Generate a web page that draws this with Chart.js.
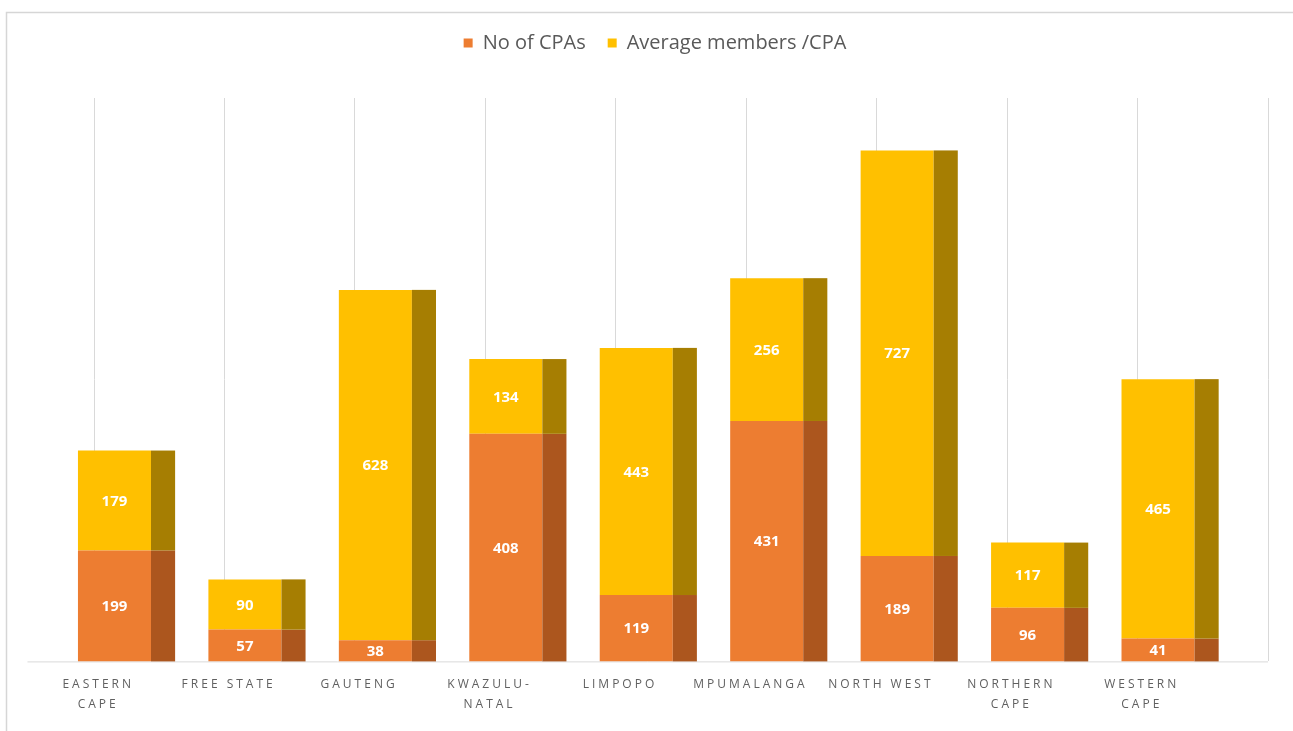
<!DOCTYPE html>
<html>
<head>
<meta charset="utf-8">
<title>CPAs by province</title>
<script src="https://cdn.jsdelivr.net/npm/chart.js@4.4.1/dist/chart.umd.min.js"></script>
<style>
  html, body { margin: 0; padding: 0; background: #fff; }
  #wrap { width: 1293px; height: 731px; }
</style>
</head>
<body>
<div id="wrap"><canvas id="cpaChart"></canvas></div>
<script>
// provinces, shown in capitals with a line break like the original axis
const provinces = [
  ['EASTERN', 'CAPE'], 'FREE STATE', 'GAUTENG', ['KWAZULU-', 'NATAL'],
  'LIMPOPO', 'MPUMALANGA', 'NORTH WEST', ['NORTHERN', 'CAPE'], ['WESTERN', 'CAPE']
];
const noOfCPAs = [199, 57, 38, 408, 119, 431, 189, 96, 41];
const avgMembersPerCPA = [179, 90, 628, 134, 443, 256, 727, 117, 465];

const frontColors = ['#ED7D31', '#FFC000'];
const sideColors = ['#AC561E', '#A67E02'];

// fake 3D look: bars pushed forward (left), with a darker side face on the right
const pseudo3d = {
  id: 'pseudo3d',
  beforeDraw(chart) {
    const ctx = chart.ctx;
    ctx.save();
    ctx.strokeStyle = '#d6d6d6';
    ctx.lineWidth = 1.5;
    ctx.beginPath();
    ctx.moveTo(6.5, chart.height);
    ctx.lineTo(6.5, 12.5);
    ctx.lineTo(chart.width, 12.5);
    ctx.stroke();
    ctx.restore();
  },
  beforeDatasetsDraw(chart) {
    const ctx = chart.ctx;
    const area = chart.chartArea;
    const x = chart.scales.x;
    const step = x.getPixelForValue(1) - x.getPixelForValue(0);
    // floor edge
    ctx.save();
    ctx.strokeStyle = '#d9d9d9';
    ctx.lineWidth = 1;
    ctx.beginPath();
    ctx.moveTo(area.left - step * 0.51, area.bottom + 0.5);
    ctx.lineTo(area.right, area.bottom + 0.5);
    ctx.stroke();
    ctx.restore();

    ctx.save();
    ctx.translate(-step * 0.343, 0);
  },
  afterDatasetsDraw(chart) {
    const ctx = chart.ctx;
    ctx.letterSpacing = '0px';
    chart.data.datasets.forEach((ds, di) => {
      const meta = chart.getDatasetMeta(di);
      meta.data.forEach((bar, i) => {
        const depth = bar.width * 0.33;
        const right = bar.x + bar.width / 2;
        ctx.fillStyle = sideColors[di];
        ctx.fillRect(right, bar.y, depth, bar.base - bar.y);
      });
    });
    chart.data.datasets.forEach((ds, di) => {
      const meta = chart.getDatasetMeta(di);
      meta.data.forEach((bar, i) => {
        ctx.fillStyle = '#ffffff';
        ctx.font = 'bold 15px "Open Sans", sans-serif';
        ctx.textAlign = 'center';
        ctx.textBaseline = 'middle';
        ctx.fillText(String(ds.data[i]), bar.x, (bar.y + bar.base) / 2 + 1);
      });
    });
    ctx.restore();
    // spaced capitals for the category labels drawn next
    ctx.letterSpacing = '3px';
  },
  afterDraw(chart) {
    chart.ctx.letterSpacing = '0px';
  }
};

new Chart(document.getElementById('cpaChart'), {
  type: 'bar',
  data: {
    labels: provinces,
    datasets: [
      {
        label: 'No of CPAs',
        data: noOfCPAs,
        backgroundColor: frontColors[0],
        categoryPercentage: 1,
        barPercentage: 0.56
      },
      {
        label: 'Average members /CPA',
        data: avgMembersPerCPA,
        backgroundColor: frontColors[1],
        categoryPercentage: 1,
        barPercentage: 0.56
      }
    ]
  },
  options: {
    responsive: true,
    maintainAspectRatio: false,
    animation: false,
    layout: {
      padding: { left: 42, right: 25, top: 11, bottom: 4 }
    },
    scales: {
      x: {
        stacked: true,
        grid: {
          color: '#d9d9d9',
          drawTicks: false,
          offset: true
        },
        border: { display: false },
        ticks: {
          z: 1,
          padding: 13,
          labelOffset: -61,
          maxRotation: 0,
          autoSkip: false,
          color: '#606060',
          font: { family: '"Open Sans", sans-serif', size: 12, lineHeight: 1.65 }
        }
      },
      y: {
        stacked: true,
        min: 0,
        max: 1010,
        grid: { display: false },
        border: { display: false },
        ticks: { display: false },
        // empty gutter on the left, no visible value axis
        afterFit(scale) { scale.width = 52; }
      }
    },
    plugins: {
      legend: {
        position: 'top',
        weight: 3000,
        labels: {
          boxWidth: 9,
          boxHeight: 9,
          padding: 22,
          color: '#595959',
          font: { family: '"Open Sans", sans-serif', size: 20 }
        }
      },
      title: {
        display: true,
        text: '',
        weight: 500,
        font: { size: 10 },
        padding: { top: 0, bottom: 23 }
      },
      tooltip: { enabled: false }
    }
  },
  plugins: [pseudo3d]
});
</script>
</body>
</html>
